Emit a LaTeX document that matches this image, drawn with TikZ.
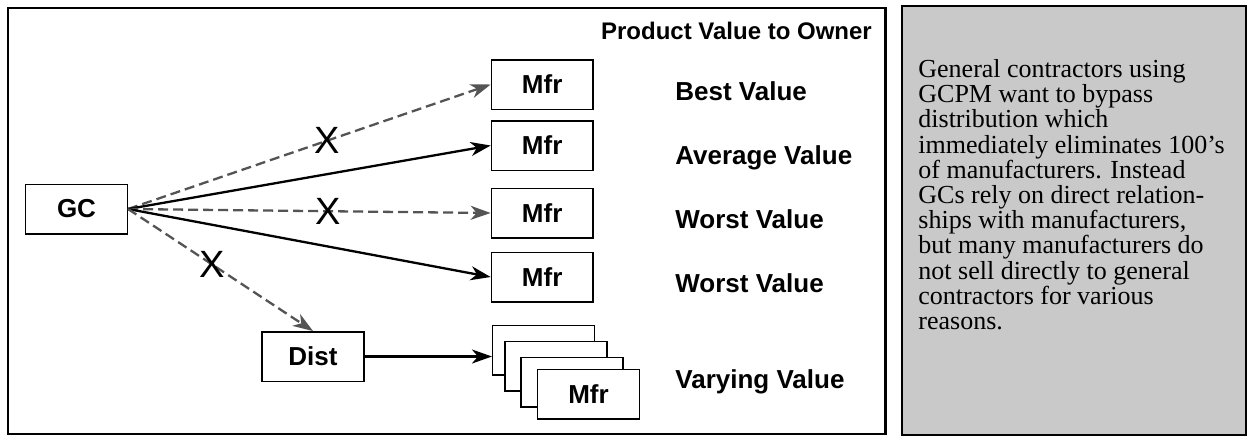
\documentclass[tikz,border=0pt]{standalone}
\usepackage{fontspec}
\setmainfont{Liberation Serif}
\setsansfont{Liberation Sans}
\usetikzlibrary{arrows.meta}

\tikzset{
  firmbox/.style={draw, line width=0.75pt, fill=white, minimum width=50.8pt,
    minimum height=24.75pt, inner sep=0pt, font=\sffamily\bfseries\fontsize{13}{15}\selectfont},
  valuetext/.style={anchor=base west, inner sep=0pt, font=\sffamily\bfseries\fontsize{13}{15}\selectfont},
  cutlink/.style={draw=black!67, dash pattern=on 5pt off 2.5pt, line width=1.15pt,
    -{Stealth[length=10pt,width=7pt,inset=3pt]}},
  directlink/.style={draw=black, line width=1.15pt, -{Stealth[length=10pt,width=7pt,inset=3pt]}},
  xmark/.style={inner sep=0pt, font=\sffamily\fontsize{19}{20}\selectfont},
}

\begin{document}
\begin{tikzpicture}[x=0.5pt,y=-0.5pt]
\useasboundingbox (0,0) rectangle (1247,436);
% panels
\draw[line width=1.3pt] (8,8) rectangle (885.7,434);
\filldraw[fill=black!21, line width=1.3pt] (902,6) rectangle (1246,435);
\node[valuetext, font=\sffamily\bfseries\fontsize{12}{14}\selectfont] (owner) at (600.7,39) {Product Value to Owner};
% boxes
\node[firmbox] (gc) at (76.5,209) {GC};
\node[firmbox] (mfrA) at (542.2,84.5) {Mfr};
\node[firmbox] (mfrB) at (542.2,145.5) {Mfr};
\node[firmbox] (mfrC) at (542.2,213) {Mfr};
\node[firmbox] (mfrD) at (542.2,277) {Mfr};
\node[firmbox] (dist) at (313,356.5) {Dist};
\node[firmbox] (stackA) at (543.5,350.2) {};
\node[firmbox] (stackB) at (556,366.3) {};
\node[firmbox] (stackC) at (572,382) {};
\node[firmbox] (stackD) at (588.5,394.2) {Mfr};
% links
\draw[cutlink] (gc.east) -- node[xmark, pos=0.55] (xA) {X} (mfrA.west);
\draw[directlink] (gc.east) -- (mfrB.west);
\draw[cutlink] (gc.east) -- node[xmark, pos=0.552] (xC) {X} (mfrC.west);
\draw[directlink] (gc.east) -- (mfrD.west);
\draw[cutlink] (gc.east) -- node[xmark, pos=0.457] (xD) {X} (dist.north);
\draw[directlink] (dist.east) -- (dist.east -| stackA.west);
% values
\node[valuetext] (best) at (675,100) {Best Value};
\node[valuetext] (average) at (675,164) {Average Value};
\node[valuetext] (worstA) at (675,228) {Worst Value};
\node[valuetext] (worstB) at (675,292) {Worst Value};
\node[valuetext] (varying) at (675,388) {Varying Value};
% note
\node[anchor=north west, inner sep=0pt, align=left, font=\fontsize{13}{12.6}\selectfont] (note) at (918,59)
  {General contractors using\\ GCPM want to bypass\\ distribution which\\ immediately eliminates 100’s\\
   of manufacturers. Instead\\ GCs rely on direct relation-\\ ships with manufacturers,\\
   but many manufacturers do\\ not sell directly to general\\ contractors for various\\ reasons.};
\end{tikzpicture}
\end{document}
